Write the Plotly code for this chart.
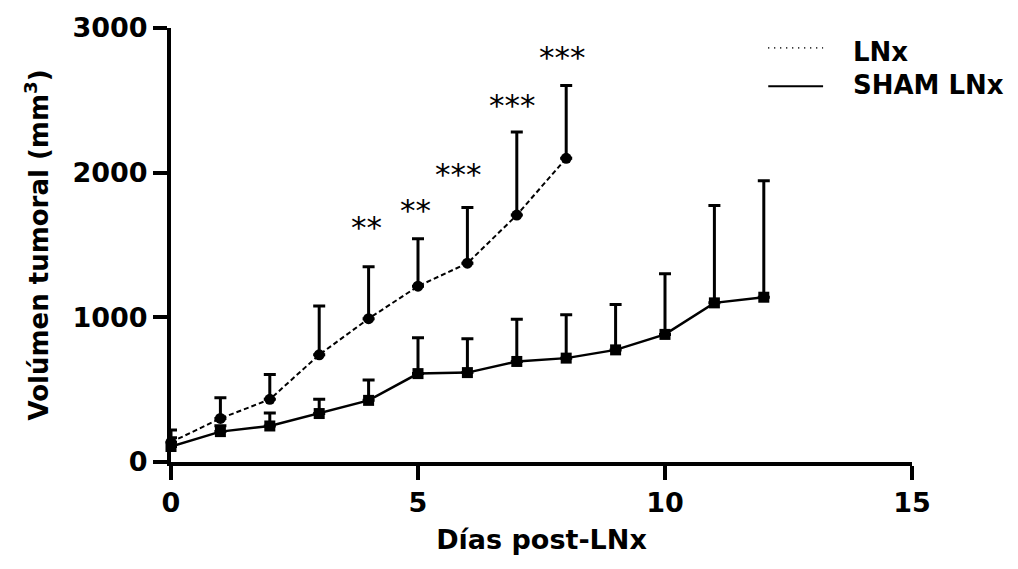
import plotly.graph_objects as go

# Tumour volume (mm^3), mean and upper SEM per day after lymphadenectomy
days_lnx = [0, 1, 2, 3, 4, 5, 6, 7, 8]
vol_lnx = [137, 301, 433, 741, 991, 1215, 1374, 1707, 2099]
sem_lnx = [84, 143, 171, 337, 358, 328, 385, 574, 503]

days_sham = [0, 1, 2, 3, 4, 5, 6, 7, 8, 9, 10, 11, 12]
vol_sham = [107, 210, 249, 335, 426, 611, 618, 695, 718, 775, 882, 1100, 1139]
sem_sham = [60, 40, 90, 98, 141, 248, 234, 292, 300, 314, 419, 673, 805]

# Significance marks (LNx vs SHAM LNx)
sig_days = [4, 5, 6, 7, 8]
sig_labels = ["**", "**", "***", "***", "***"]

x_ticks = [0, 5, 10, 15]
y_ticks = [0, 1000, 2000, 3000]

BOLD = "DejaVu Sans"

fig = go.Figure()

fig.add_trace(go.Scatter(
    x=days_lnx, y=vol_lnx, mode="lines+markers", name="LNx",
    line=dict(color="black", width=2, dash="5px,3px"),
    marker=dict(symbol="circle", size=11, color="black"),
    error_y=dict(type="data", array=sem_lnx, arrayminus=[0] * len(sem_lnx),
                 symmetric=False, color="black", thickness=3, width=6),
    cliponaxis=False, showlegend=False,
))

fig.add_trace(go.Scatter(
    x=days_sham, y=vol_sham, mode="lines+markers", name="SHAM LNx",
    line=dict(color="black", width=2.5),
    marker=dict(symbol="square", size=11, color="black"),
    error_y=dict(type="data", array=sem_sham, arrayminus=[0] * len(sem_sham),
                 symmetric=False, color="black", thickness=3, width=6),
    cliponaxis=False, showlegend=False,
))

# star labels sit a gap above each LNx error bar
star_gap = [276, 196, 230, 187, 201]
star_xshift = [-2, -3, -9, -4, -4]
annotations = []
for d, lab, gap, xs in zip(sig_days, sig_labels, star_gap, star_xshift):
    i = days_lnx.index(d)
    annotations.append(dict(
        x=d, y=vol_lnx[i] + sem_lnx[i] + gap, text=lab, showarrow=False,
        xanchor="center", yanchor="middle", xshift=xs, yshift=0,
        font=dict(family="DejaVu Sans", size=31, color="black"),
    ))

# legend drawn by hand: line sample + label
legend_items = [("LNx", "1px,5px", 1.8, 0.954, 0.945),
                ("SHAM LNx", "solid", 2, 0.866, 0.868)]
shapes = []
for name, dash, w, ly, ty in legend_items:
    shapes.append(dict(type="line", xref="paper", yref="paper",
                       x0=0.806, x1=0.880, y0=ly, y1=ly,
                       line=dict(color="black", width=w, dash=dash)))
    annotations.append(dict(
        x=0.918, y=ty, xref="paper", yref="paper", text=name, showarrow=False,
        xanchor="left", yanchor="middle",
        font=dict(family=BOLD, size=26, color="black", weight="bold"),
    ))

axis_common = dict(
    showline=True, linecolor="black", linewidth=4,
    ticks="outside", ticklen=14, tickwidth=4, tickcolor="black",
    showgrid=False, zeroline=False,
    tickfont=dict(family=BOLD, size=27, color="black", weight="bold"),
)

fig.update_layout(
    width=1018, height=569,
    margin=dict(l=171, r=106, t=23, b=107),
    paper_bgcolor="white", plot_bgcolor="white",
    xaxis=dict(range=[0, 15], tickvals=x_ticks, **axis_common,
               title=dict(text="Días post-LNx", standoff=14,
                          font=dict(family=BOLD, size=27, color="black", weight="bold"))),
    yaxis=dict(range=[0, 3000], tickvals=y_ticks, **axis_common,
               title=dict(text="Volúmen tumoral (mm<sup>3</sup>)", standoff=17,
                          font=dict(family=BOLD, size=26, color="black", weight="bold"))),
    annotations=annotations,
    shapes=shapes,
)

fig.write_html("out.html")
